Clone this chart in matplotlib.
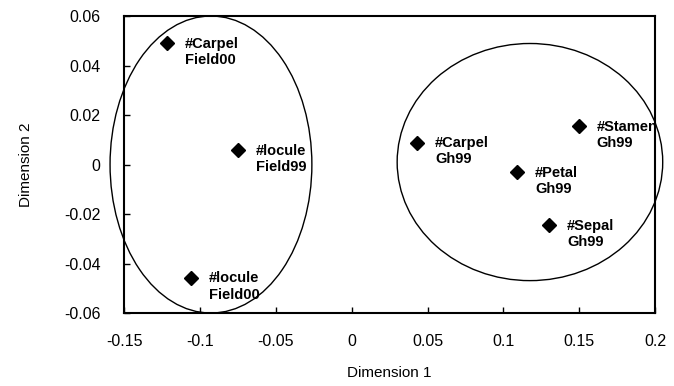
import matplotlib
matplotlib.use("Agg")
import matplotlib.pyplot as plt
from matplotlib.patches import Ellipse

plt.rcParams['font.family'] = ['Liberation Sans', 'DejaVu Sans']

# MDS coordinates
labels = ["#Carpel\nField00", "#locule\nField99", "#locule\nField00",
          "#Carpel\nGh99", "#Petal\nGh99", "#Stamen\nGh99", "#Sepal\nGh99"]
dim1 = [-0.1217, -0.0749, -0.1059, 0.043, 0.1089, 0.1497, 0.130]
dim2 = [0.0489, 0.0057, -0.0457, 0.0089, -0.0032, 0.0154, -0.0246]

# group ellipses: (centre x, centre y, width, height)
groups = [(-0.0927, 0.0, 0.133, 0.120),
          (0.1175, 0.001, 0.175, 0.0958)]

fig = plt.figure(figsize=(6.74, 3.86), dpi=100)
ax = fig.add_axes([0.184, 0.189, 0.788, 0.7695])

ax.plot(dim1, dim2, linestyle="none", marker="D", color="black", markersize=7)

for x, y, s in zip(dim1, dim2, labels):
    ax.annotate(s, (x, y), xytext=(13, 4.5), textcoords="offset points",
                fontsize=10.5, fontweight="bold", va="top", ha="left",
                linespacing=1.2, annotation_clip=False)

for cx, cy, w, h in groups:
    ax.add_patch(Ellipse((cx, cy), w, h, fill=False, edgecolor="black",
                         linewidth=1.0, clip_on=False))

ax.set_xlim(-0.15, 0.2)
ax.set_ylim(-0.06, 0.06)
ax.set_xticks([-0.15, -0.1, -0.05, 0, 0.05, 0.1, 0.15, 0.2])
ax.set_xticklabels(["-0.15", "-0.1", "-0.05", "0", "0.05", "0.1", "0.15", "0.2"])
ax.set_yticks([-0.06, -0.04, -0.02, 0, 0.02, 0.04, 0.06])
ax.set_yticklabels(["-0.06", "-0.04", "-0.02", "0", "0.02", "0.04", "0.06"])

ax.tick_params(direction="in", length=4, width=1, labelsize=11.5)
ax.tick_params(axis="x", pad=15)
ax.tick_params(axis="y", pad=17)
for sp in ax.spines.values():
    sp.set_linewidth(1.5)

ax.set_xlabel("Dimension 1", fontsize=11, labelpad=12)
ax.set_ylabel("Dimension 2", fontsize=11, labelpad=22)

fig.savefig("out.png", dpi=100)
